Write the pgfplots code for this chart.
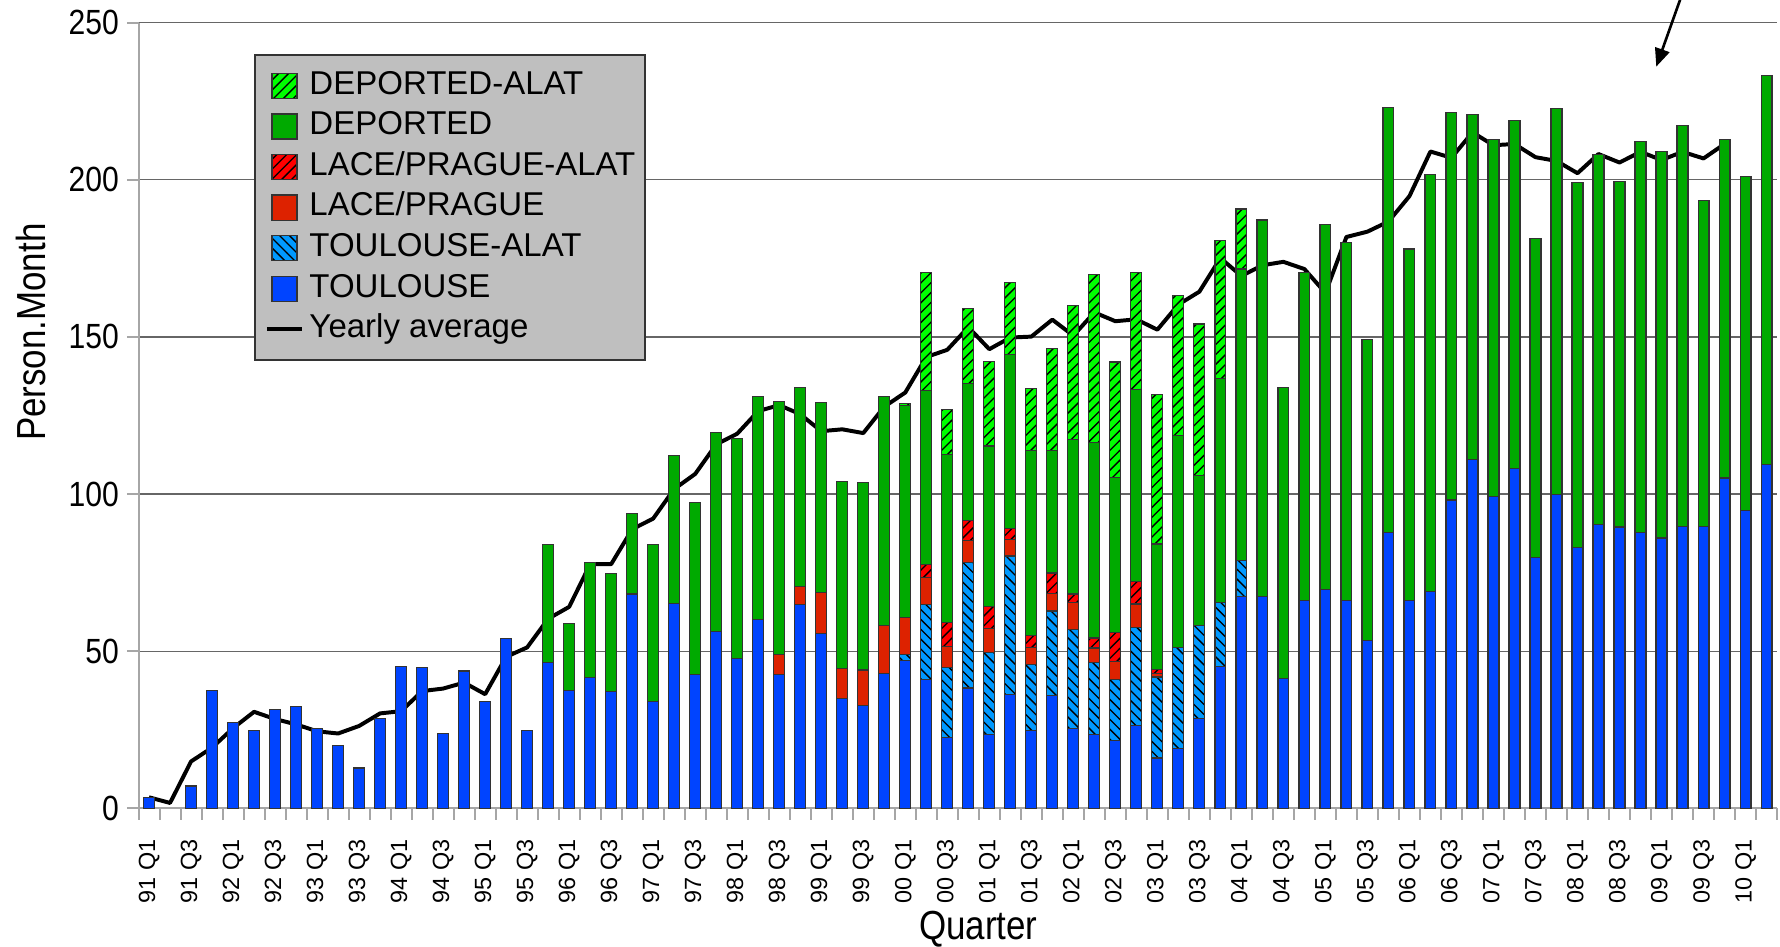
\documentclass[border=0pt]{standalone}
\usepackage{fontspec}
\setmainfont{Liberation Sans}
\newfontfamily\narrowfont[FakeStretch=0.86]{Liberation Sans}
\usepackage{pgfplots}
\pgfplotsset{compat=1.18}
\usepackage{pgfplotstable}
\usetikzlibrary{patterns,arrows.meta}
\definecolor{cT}{RGB}{0,68,255}
\definecolor{cTA}{RGB}{0,153,255}
\definecolor{cL}{RGB}{221,34,0}
\definecolor{cLA}{RGB}{255,0,0}
\definecolor{cD}{RGB}{0,170,0}
\definecolor{cDA}{RGB}{0,255,0}
\pgfplotsset{
  sqlegend/.style={legend image code/.code={\draw[##1] (0pt,-3.8pt) rectangle (7.6pt,3.8pt);}},
  lnlegend/.style={legend image code/.code={\draw[##1] (-1.5pt,0pt) -- (9.2pt,0pt);}},
}
\pgfplotstableread{
i T TA L LA D DA
0 3.5 0 0 0 0 0
1 0 0 0 0 0 0
2 7.1 0 0 0 0 0
3 37.6 0 0 0 0 0
4 27.4 0 0 0 0 0
5 24.8 0 0 0 0 0
6 31.4 0 0 0 0 0
7 32.4 0 0 0 0 0
8 25.4 0 0 0 0 0
9 20.0 0 0 0 0 0
10 12.8 0 0 0 0 0
11 28.5 0 0 0 0 0
12 45.2 0 0 0 0 0
13 44.7 0 0 0 0 0
14 23.8 0 0 0 0 0
15 43.7 0 0 0 0 0
16 33.9 0 0 0 0 0
17 54.1 0 0 0 0 0
18 24.8 0 0 0 0 0
19 46.5 0 0 0 37.4 0
20 37.4 0 0 0 21.4 0
21 41.6 0 0 0 36.5 0
22 37.1 0 0 0 37.6 0
23 68.2 0 0 0 25.5 0
24 33.9 0 0 0 50.0 0
25 65.3 0 0 0 46.9 0
26 42.5 0 0 0 54.7 0
27 56.2 0 0 0 63.5 0
28 47.7 0 0 0 70.0 0
29 60.1 0 0 0 71.0 0
30 42.5 0 6.4 0 80.5 0
31 64.8 0 5.7 0 63.5 0
32 55.6 0 13.1 0 60.4 0
33 34.9 0 9.6 0 59.4 0
34 32.6 0 11.4 0 59.6 0
35 42.8 0 15.3 0 73.0 0
36 47.0 1.9 11.7 0 67.5 0.8
37 41.1 23.7 8.7 4.2 55.3 37.4
38 22.5 22.2 6.7 7.7 53.6 14.2
39 38.3 39.8 7.2 6.4 43.6 23.8
40 23.5 26.0 7.6 7.2 51.0 26.9
41 36.1 44.2 5.3 3.4 55.4 23.0
42 24.8 20.9 5.5 3.7 58.9 19.8
43 35.8 27.0 5.5 6.6 38.9 32.4
44 25.4 31.4 8.7 2.7 49.2 42.6
45 23.5 23.0 4.5 3.2 62.2 53.5
46 21.5 19.6 5.6 9.2 49.4 36.7
47 26.4 31.0 7.6 7.2 61.1 37.3
48 16.0 25.8 1.0 1.4 39.9 47.5
49 19.0 32.2 0 0 67.5 44.5
50 28.5 29.6 0 0 47.7 48.3
51 45.2 20.4 0 0 71.1 44.0
52 67.5 11.4 0 0 92.7 19.1
53 67.5 0 0 0 119.7 0
54 41.3 0 0 0 92.5 0
55 66.2 0 0 0 104.2 0
56 69.7 0 0 0 116.0 0
57 66.0 0 0 0 114.0 0
58 53.4 0 0 0 95.7 0
59 87.8 0 0 0 135.3 0
60 66.0 0 0 0 112.0 0
61 69.0 0 0 0 132.8 0
62 98.1 0 0 0 123.2 0
63 111.1 0 0 0 109.7 0
64 99.2 0 0 0 113.5 0
65 108.0 0 0 0 110.9 0
66 79.9 0 0 0 101.3 0
67 99.9 0 0 0 122.7 0
68 82.9 0 0 0 116.2 0
69 90.3 0 0 0 117.7 0
70 89.5 0 0 0 110.0 0
71 87.8 0 0 0 124.4 0
72 86.0 0 0 0 122.9 0
73 89.7 0 0 0 127.6 0
74 89.7 0 0 0 103.6 0
75 105.1 0 0 0 107.8 0
76 94.7 0 0 0 106.3 0
77 109.5 0 0 0 123.7 0
}\bars
\pgfplotstableread{
i avg
0 3.5
1 1.7
2 14.9
3 19.3
4 25.5
5 30.7
6 28.4
7 26.7
8 24.5
9 23.8
10 26.2
11 30.2
12 30.9
13 37.3
14 38.1
15 40.0
16 36.3
17 48.2
18 51.2
19 60.3
20 64.1
21 77.7
22 77.7
23 88.8
24 92.2
25 101.6
26 106.4
27 115.8
28 119.2
29 126.4
30 128.3
31 125.4
32 120.0
33 120.6
34 119.4
35 127.8
36 132.3
37 143.6
38 145.9
39 153.1
40 146.1
41 149.8
42 150.1
43 155.5
44 150.4
45 157.8
46 155.0
47 155.6
48 152.3
49 160.3
50 164.4
51 175.1
52 169.4
53 172.8
54 173.9
55 171.6
56 164.0
57 181.8
58 183.5
59 186.7
60 194.8
61 209.0
62 207.0
63 215.1
64 211.0
65 211.4
66 207.2
67 206.0
68 202.1
69 208.2
70 205.5
71 208.9
72 206.3
73 208.9
74 206.8
75 211.4
}\avg
\begin{document}
\begin{tikzpicture}
\begin{axis}[
  scale only axis, width=496.4pt, height=238pt,
  xmin=-0.5, xmax=77.5, ymin=0, ymax=250,
  ytick={0,50,...,250},
  ymajorgrids, grid style={black!60, line width=0.4pt},
  axis x line*=bottom, axis y line*=left,
  axis line style={black!35, line width=0.6pt},
  tick align=outside, major tick length=3.5pt,
  tick style={black!35, line width=0.6pt},
  xtick={-0.5,0.5,...,77.5}, xticklabels={},
  extra x ticks={0,2,...,76},
  extra x tick labels={91 Q1,91 Q3,92 Q1,92 Q3,93 Q1,93 Q3,94 Q1,94 Q3,95 Q1,95 Q3,96 Q1,96 Q3,97 Q1,97 Q3,98 Q1,98 Q3,99 Q1,99 Q3,00 Q1,00 Q3,01 Q1,01 Q3,02 Q1,02 Q3,03 Q1,03 Q3,04 Q1,04 Q3,05 Q1,05 Q3,06 Q1,06 Q3,07 Q1,07 Q3,08 Q1,08 Q3,09 Q1,09 Q3,10 Q1},
  extra x tick style={major tick length=0pt, tick style={draw=none},
    xticklabel style={rotate=90, anchor=east, font=\fontsize{7.1}{8}\selectfont, xshift=-5.9pt}},
  yticklabel style={font=\narrowfont\fontsize{10.6}{12}\selectfont, xshift=1.1pt},
  /pgf/number format/assume math mode=true,
  ybar stacked, bar width=0.52,
  clip=false,
  legend cell align=left,
  legend style={at={(rel axis cs:0.0705,0.9595)}, anchor=north west,
    fill=black!25, draw=black!80, line width=0.6pt,
    font=\fontsize{10}{12}\selectfont, inner xsep=3pt, inner ysep=4.3pt, row sep=2.5pt, column sep=1.6pt,
    nodes={inner sep=0pt, text height=7.4pt, text depth=2.4pt}},
]
\addlegendimage{sqlegend, fill=cDA, draw=black!80, line width=0.4pt, postaction={pattern=north east lines}}
\addlegendentry{DEPORTED-ALAT}
\addlegendimage{sqlegend, fill=cD, draw=black!80, line width=0.4pt}
\addlegendentry{DEPORTED}
\addlegendimage{sqlegend, fill=cLA, draw=black!80, line width=0.4pt, postaction={pattern=north east lines}}
\addlegendentry{LACE/PRAGUE-ALAT}
\addlegendimage{sqlegend, fill=cL, draw=black!80, line width=0.4pt}
\addlegendentry{LACE/PRAGUE}
\addlegendimage{sqlegend, fill=cTA, draw=black!80, line width=0.4pt, postaction={pattern=north west lines}}
\addlegendentry{TOULOUSE-ALAT}
\addlegendimage{sqlegend, fill=cT, draw=black!80, line width=0.4pt}
\addlegendentry{TOULOUSE}
\addlegendimage{lnlegend, black, line width=1.2pt}
\addlegendentry{Yearly average}

\addplot[fill=cT, draw=black!80, line width=0.35pt] table[x=i, y=T] {\bars};
\addplot[fill=cTA, draw=black!80, line width=0.35pt, postaction={pattern=north west lines}] table[x=i, y=TA] {\bars};
\addplot[fill=cL, draw=black!80, line width=0.35pt] table[x=i, y=L] {\bars};
\addplot[fill=cLA, draw=black!80, line width=0.35pt, postaction={pattern=north east lines}] table[x=i, y=LA] {\bars};
\addplot[fill=cD, draw=black!80, line width=0.35pt] table[x=i, y=D] {\bars};
\addplot[fill=cDA, draw=black!80, line width=0.35pt, postaction={pattern=north east lines}] table[x=i, y=DA] {\bars};
\addplot[stack plots=false, sharp plot, black, line width=1.2pt, mark=none, line join=round] table[x=i, y=avg] {\avg};

\draw[-{Triangle[length=5.5pt,width=4.5pt]}, line width=0.8pt] (axis cs:72.9,257.6) -- (axis cs:71.75,236);
\node[rotate=90, font=\narrowfont\fontsize{12.3}{14}\selectfont] at (rel axis cs:-0.0659,0.606) {Person.Month};
\node[font=\narrowfont\fontsize{12.3}{14}\selectfont] at (rel axis cs:0.5125,-0.1536) {Quarter};
\coordinate (bbll) at (rel axis cs:-0.08455,-0.1757);
\coordinate (bbur) at (rel axis cs:1.0018,1.0289);
\end{axis}
\pgfresetboundingbox
\path[use as bounding box] (bbll) rectangle (bbur);
\end{tikzpicture}
\end{document}
